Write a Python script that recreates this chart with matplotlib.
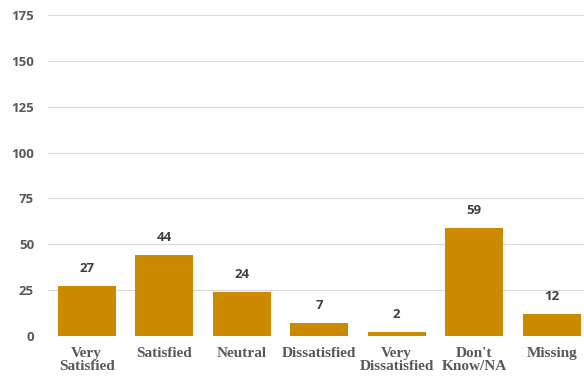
import matplotlib.pyplot as plt

categories = ['Very\nSatisfied', 'Satisfied', 'Neutral', 'Dissatisfied',
              'Very\nDissatisfied', "Don't\nKnow/NA", 'Missing']
counts = [27, 44, 24, 7, 2, 59, 12]
yticks = [0, 25, 50, 75, 100, 125, 150, 175]

fig = plt.figure(figsize=(5.84, 3.81), dpi=100)
ax = fig.add_axes([48/584, 45/381, 542.5/584, 321/381])

x = range(len(categories))
bars = ax.bar(x, counts, width=0.75, color='#CC8A00', zorder=3)

for b, v in zip(bars, counts):
    ax.annotate(str(v), (b.get_x() + b.get_width()/2, v), xytext=(0, 8),
                textcoords='offset points', ha='center', va='bottom',
                fontsize=9.5, fontweight='bold', color='#404040',
                family='Open Sans')

ax.set_xlim(-0.5, 6.5)
ax.set_ylim(0, 175)
ax.set_yticks(yticks)
ax.set_xticks(list(x))
ax.set_xticklabels(categories, family='Liberation Serif', fontweight='bold',
                   fontsize=11, color='#595959', linespacing=1.0)
for lbl in ax.get_yticklabels():
    lbl.set_family('Open Sans')
    lbl.set_fontweight('bold')
    lbl.set_fontsize(9.5)
    lbl.set_color('#595959')

ax.grid(axis='y', color='#D9D9D9', linewidth=0.8, zorder=0)
for s in ax.spines.values():
    s.set_visible(False)
ax.tick_params(axis='both', length=0)
ax.tick_params(axis='y', pad=10)
ax.tick_params(axis='x', pad=8)

plt.savefig('out.png')
